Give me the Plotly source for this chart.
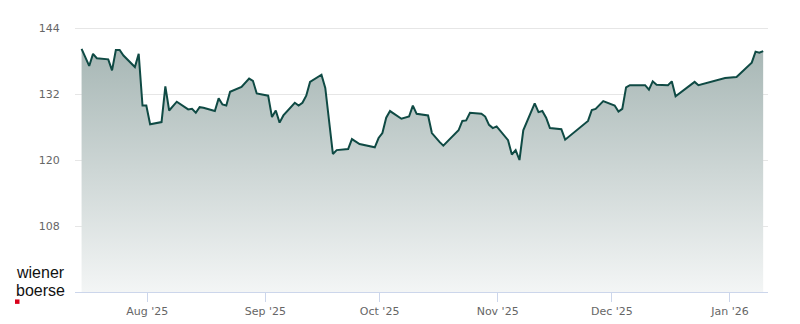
import plotly.graph_objects as go

dates = [
    "2025-07-14", "2025-07-16", "2025-07-17", "2025-07-18", "2025-07-21", "2025-07-22",
    "2025-07-23", "2025-07-24", "2025-07-25", "2025-07-28", "2025-07-29", "2025-07-30",
    "2025-07-31", "2025-08-01", "2025-08-04", "2025-08-05", "2025-08-06", "2025-08-08",
    "2025-08-11", "2025-08-12", "2025-08-13", "2025-08-14", "2025-08-15", "2025-08-18",
    "2025-08-19", "2025-08-20", "2025-08-21", "2025-08-22", "2025-08-25", "2025-08-27",
    "2025-08-28", "2025-08-29", "2025-09-01", "2025-09-02", "2025-09-03", "2025-09-04",
    "2025-09-05", "2025-09-08", "2025-09-09", "2025-09-10", "2025-09-11", "2025-09-12",
    "2025-09-15", "2025-09-16", "2025-09-18", "2025-09-19", "2025-09-22", "2025-09-23",
    "2025-09-25", "2025-09-29", "2025-09-30", "2025-10-01", "2025-10-02", "2025-10-03",
    "2025-10-06", "2025-10-08", "2025-10-09", "2025-10-10", "2025-10-13", "2025-10-14",
    "2025-10-16", "2025-10-17", "2025-10-21", "2025-10-22", "2025-10-23", "2025-10-24",
    "2025-10-27", "2025-10-28", "2025-10-29", "2025-10-30", "2025-10-31", "2025-11-03",
    "2025-11-04", "2025-11-05", "2025-11-06", "2025-11-07", "2025-11-10", "2025-11-11",
    "2025-11-12", "2025-11-13", "2025-11-14", "2025-11-17", "2025-11-18", "2025-11-24",
    "2025-11-25", "2025-11-26", "2025-11-28", "2025-12-01", "2025-12-02", "2025-12-03",
    "2025-12-04", "2025-12-05", "2025-12-09", "2025-12-10", "2025-12-11", "2025-12-12",
    "2025-12-15", "2025-12-16", "2025-12-17", "2025-12-19", "2025-12-22", "2025-12-23",
    "2025-12-30", "2026-01-02", "2026-01-06", "2026-01-07", "2026-01-08", "2026-01-09",
]
prices = [
    140.2, 137.1, 139.3, 138.5, 138.3, 136.3,
    140.0, 140.0, 139.0, 136.9, 139.3, 129.9,
    129.9, 126.5, 126.9, 133.4, 129.0, 130.6,
    129.2, 129.3, 128.6, 129.6, 129.5, 128.9,
    131.2, 130.1, 129.9, 132.4, 133.3, 134.8,
    134.4, 132.1, 131.7, 127.8, 129.0, 126.8,
    128.1, 130.4, 129.9, 130.4, 131.7, 134.2,
    135.5, 133.1, 121.1, 121.8, 122.0, 123.8,
    122.9, 122.3, 124.0, 124.9, 127.7, 128.9,
    127.5, 127.9, 129.9, 128.4, 128.1, 124.9,
    123.3, 122.6, 125.4, 127.1, 127.2, 128.6,
    128.4, 127.9, 126.4, 125.8, 126.1, 123.6,
    121.0, 121.8, 120.0, 125.4, 130.3, 128.7,
    128.9, 127.7, 125.8, 125.6, 123.7, 127.1,
    129.1, 129.3, 130.7, 129.9, 128.8, 129.3,
    133.2, 133.6, 133.6, 132.8, 134.3, 133.7,
    133.6, 134.3, 131.6, 132.7, 134.2, 133.6,
    134.9, 135.1, 137.7, 139.7, 139.5, 139.8,
]
tick_dates = ["2025-08-01", "2025-09-01", "2025-10-01", "2025-11-01", "2025-12-01", "2026-01-01"]
tick_labels = ["Aug '25", "Sep '25", "Oct '25", "Nov '25", "Dec '25", "Jan '26"]
y_ticks = [108, 120, 132, 144]

times = [d + " 17:30" for d in dates]

W, H = 800, 324
ML, MR, MT, MB = 75, 32, 6, 29
PW, PH = W - ML - MR, H - MT - MB


def px(x):
    return (x - ML) / PW


def py(y):
    return (H - MB - y) / PH


fig = go.Figure()
fig.add_trace(go.Scatter(
    x=times, y=prices, mode="lines",
    line=dict(color="#0f4a44", width=2),
    fill="tozeroy",
    fillgradient=dict(type="vertical", start=96, stop=141,
                      colorscale=[[0, "rgb(244,246,246)"], [1, "rgb(166,182,180)"]]),
    hoverinfo="skip", showlegend=False,
))

logo_font = dict(family="Liberation Sans, Arial, sans-serif", size=16, color="#111111")
fig.add_annotation(x=px(14), y=py(275), xref="paper", yref="paper", text="wiener",
                   showarrow=False, xanchor="left", yanchor="middle", font=logo_font)
fig.add_annotation(x=px(14), y=py(293), xref="paper", yref="paper", text="boerse",
                   showarrow=False, xanchor="left", yanchor="middle", font=logo_font)
fig.add_shape(type="rect", xref="paper", yref="paper",
              x0=px(15), x1=px(19.5), y0=py(307), y1=py(302.5),
              fillcolor="#d9001b", line=dict(width=0))

fig.update_layout(
    width=W, height=H,
    margin=dict(l=ML, r=MR, t=MT, b=MB),
    paper_bgcolor="white", plot_bgcolor="white",
    font=dict(family="DejaVu Sans, sans-serif", size=11, color="#666666"),
    xaxis=dict(
        type="date",
        range=["2025-07-13 00:00", "2026-01-11 00:00"],
        tickvals=tick_dates, ticktext=tick_labels,
        showgrid=False, zeroline=False,
        showline=True, linecolor="#ccd6eb", linewidth=1,
        ticks="outside", ticklen=9, tickcolor="#ccd6eb", tickwidth=1,
        tickfont=dict(size=11, color="#666666"),
    ),
    yaxis=dict(
        range=[96, 148],
        tickvals=y_ticks,
        showgrid=True, gridcolor="#e6e6e6", gridwidth=1,
        zeroline=False, showline=False,
        ticks="outside", ticklen=12, tickcolor="rgba(0,0,0,0)",
        tickfont=dict(size=11, color="#666666"),
    ),
)

fig.write_html("out.html")
